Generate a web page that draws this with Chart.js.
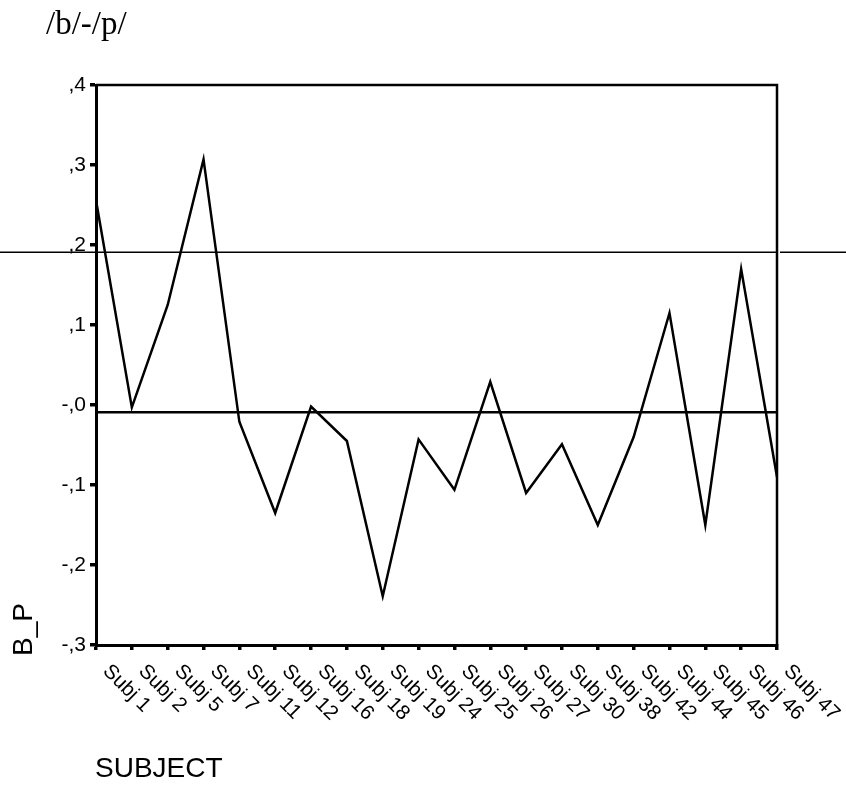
<!DOCTYPE html>
<html>
<head>
<meta charset="utf-8">
<script src="https://cdn.jsdelivr.net/npm/chart.js@4.4.0/dist/chart.umd.min.js"></script>
<style>
html,body{margin:0;padding:0;background:#fff;}
canvas{display:block;}
</style>
</head>
<body>
<canvas id="c" width="846" height="785"></canvas>
<script>
// ---- data ----
const subjects = ['Subj 1','Subj 2','Subj 5','Subj 7','Subj 11','Subj 12','Subj 16','Subj 18','Subj 19','Subj 24',
                  'Subj 25','Subj 26','Subj 27','Subj 30','Subj 38','Subj 42','Subj 44','Subj 45','Subj 46','Subj 47'];
const bpValues = [0.256, -0.003, 0.125, 0.307, -0.021, -0.135, -0.002, -0.045, -0.239, -0.043,
                  -0.106, 0.029, -0.110, -0.049, -0.150, -0.040, 0.115, -0.150, 0.170, -0.090];
const yTickValues = [0.4, 0.3, 0.2, 0.1, 0.0, -0.1, -0.2, -0.3];
const yTickLabels = [',4', ',3', ',2', ',1', '-,0', '-,1', '-,2', '-,3'];
const refLineThin = 0.191;
const refLineThick = -0.009;
const chartTitle = '/b/-/p/';
const xAxisTitle = 'SUBJECT';
const yAxisTitle = 'B_P';

const SANS = '"Liberation Sans", Arial, Helvetica, sans-serif';
const SERIF = '"Liberation Serif", "Times New Roman", serif';

function tickLabelFor(v) {
  let best = 0, bd = Infinity;
  yTickValues.forEach((t, i) => { const d = Math.abs(t - v); if (d < bd) { bd = d; best = i; } });
  return yTickLabels[best];
}

const decor = {
  id: 'decor',
  afterDatasetsDraw(chart) {
    const ctx = chart.ctx, a = chart.chartArea, x = chart.scales.x, y = chart.scales.y;
    ctx.save();
    ctx.strokeStyle = '#000';
    // frame (top/right)
    ctx.lineWidth = 2.5;
    ctx.beginPath();
    ctx.moveTo(a.left, a.top); ctx.lineTo(a.right, a.top); ctx.lineTo(a.right, a.bottom);
    ctx.stroke();
    // reference lines
    const yThin = y.getPixelForValue(refLineThin);
    ctx.lineWidth = 1.5;
    ctx.beginPath();
    ctx.moveTo(0, yThin); ctx.lineTo(a.right - 1, yThin);
    ctx.moveTo(a.right + 3, yThin); ctx.lineTo(chart.width, yThin);
    ctx.stroke();
    const yThick = y.getPixelForValue(refLineThick);
    ctx.lineWidth = 2.5;
    ctx.beginPath();
    ctx.moveTo(a.left, yThick); ctx.lineTo(a.right, yThick);
    ctx.stroke();
    // x tick labels rotated 45deg clockwise
    ctx.fillStyle = '#000';
    ctx.font = '20.5px ' + SANS;
    ctx.textAlign = 'left';
    ctx.textBaseline = 'alphabetic';
    subjects.forEach((s, i) => {
      const px = x.getPixelForTick(i);
      ctx.save();
      ctx.translate(px + 6, a.bottom + 27);
      ctx.rotate(Math.PI / 4);
      ctx.fillText(s, 0, 0);
      ctx.restore();
    });
    // titles
    ctx.font = '33px ' + SERIF;
    ctx.fillText(chartTitle, 46, 34);
    ctx.font = '28px ' + SANS;
    ctx.fillText(xAxisTitle, 95, 777);
    ctx.save();
    ctx.translate(32, 656);
    ctx.rotate(-Math.PI / 2);
    ctx.fillText(yAxisTitle, 0, 0);
    ctx.restore();
    ctx.restore();
  }
};

new Chart(document.getElementById('c'), {
  type: 'line',
  data: {
    labels: subjects,
    datasets: [{
      data: bpValues,
      borderColor: '#000',
      borderWidth: 2.5,
      pointRadius: 0,
      tension: 0,
      fill: false
    }]
  },
  options: {
    responsive: false,
    animation: false,
    devicePixelRatio: 1,
    layout: { padding: { top: 85, right: 69, left: 0, bottom: 0 } },
    plugins: { legend: { display: false }, tooltip: { enabled: false }, title: { display: false } },
    scales: {
      x: {
        type: 'category',
        offset: false,
        grid: { display: true, drawOnChartArea: false, drawTicks: true, tickLength: 5, lineWidth: 3.5, color: '#000' },
        border: { display: true, color: '#000', width: 3 },
        ticks: { display: false },
        afterFit(s) { s.height = 140; }
      },
      y: {
        type: 'linear',
        min: -0.3,
        max: 0.4,
        ticks: {
          stepSize: 0.1,
          color: '#000',
          font: { family: SANS, size: 21 },
          padding: 4,
          callback: (v) => tickLabelFor(v)
        },
        grid: { display: true, drawOnChartArea: false, drawTicks: true, tickLength: 6, lineWidth: 3.5, color: '#000' },
        border: { display: true, color: '#000', width: 3 },
        afterFit(s) { s.width = 96; }
      }
    }
  },
  plugins: [decor]
});
</script>
</body>
</html>
